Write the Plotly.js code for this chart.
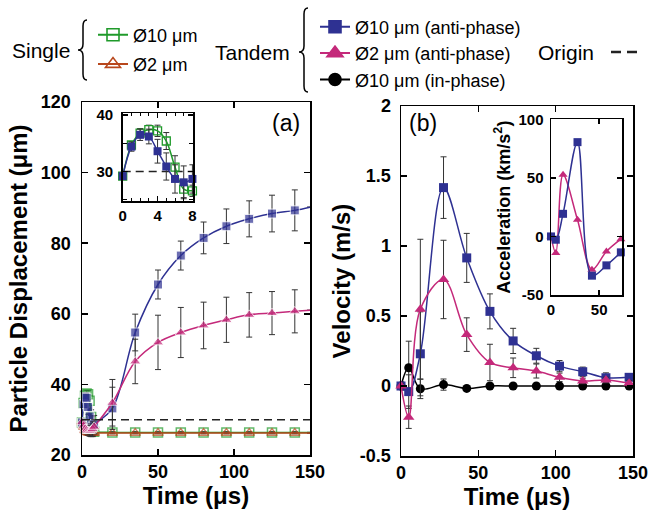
<!DOCTYPE html>
<html>
<head>
<meta charset="utf-8">
<script src="https://cdn.plot.ly/plotly-3.0.1.min.js"></script>
<style>html,body{margin:0;padding:0;background:#fff;}#chart{width:649px;height:513px;}</style>
</head>
<body>
<div id="chart"></div>
<script>
// ---------- data ----------
// (a) particle displacement, µm
const tDisp = [0, 1, 2, 3, 4, 5, 6, 7, 8, 20, 35, 50, 65, 80, 95, 110, 125, 140];
const single10 = [29.2, 34.7, 36.8, 37.4, 37.2, 35.4, 30.8, 26.9, 26.6, 26.4, 26.4, 26.4, 26.4, 26.4, 26.4, 26.4, 26.4, 26.4];
const single10Err = [0.4, 0.6, 0.8, 0.8, 1.0, 1.5, 2.0, 1.5, 1.0, 0.2, 0.2, 0.2, 0.2, 0.2, 0.2, 0.2, 0.2, 0.2];
const single2 = [29.3, 28.0, 27.0, 26.5, 26.3, 26.2, 26.2, 26.2, 26.2, 26.2, 26.2, 26.2, 26.2, 26.2, 26.2, 26.2, 26.2, 26.2];
const single2Err = [0.4, 0.5, 0.6, 0.6, 0.5, 0.4, 0.3, 0.3, 0.3, 0.2, 0.2, 0.2, 0.2, 0.2, 0.2, 0.2, 0.2, 0.2];
const tandem10 = [29.2, 34.4, 36.5, 36.2, 33.6, 30.9, 28.7, 28.1, 28.7, 33.2, 54.7, 68.3, 76.5, 81.5, 84.8, 86.9, 88.4, 89.3];
const tandem10Err = [0.4, 0.8, 1.0, 1.3, 2.1, 2.4, 2.5, 2.9, 2.5, 6.0, 5.2, 4.1, 4.1, 4.5, 4.9, 5.1, 5.2, 5.8];
const tandem2 = [29.3, 28.3, 27.4, 27.0, 26.8, 26.8, 27.0, 27.4, 28.0, 34.8, 46.5, 51.9, 54.7, 56.7, 58.3, 59.7, 60.2, 60.7];
const tandem2Err = [0.4, 0.8, 1.0, 1.0, 1.2, 1.5, 1.8, 2.0, 2.0, 6.6, 6.3, 7.7, 7.1, 6.6, 6.4, 6.3, 6.1, 6.1];
// curve value where the drawn curves meet the right frame (t = 150 µs)
const curveEndT = 150;
const single10End = 26.4, single2End = 26.2, tandem10End = 90.2, tandem2End = 61.0;
const originLevel = 30;
const insetCount = 9; // inset (a) shows t = 0..8 µs

// (b) velocity, m/s
const tVel = [0, 5, 12.5, 27.5, 42.5, 57.5, 72.5, 87.5, 102.5, 117.5, 132.5, 147.5];
const inPhase10 = [0, 0.13, -0.02, 0.01, -0.017, 0, 0, 0, 0, 0, 0, 0];
const inPhase10Err = [0.03, 0.19, 0.07, 0.04, 0.01, 0.01, 0.01, 0.01, 0.01, 0.01, 0.01, 0.01];
const anti10V = [0, -0.04, 0.23, 1.417, 0.915, 0.533, 0.322, 0.216, 0.142, 0.102, 0.059, 0.062];
const anti10VErr = [0.02, 0.12, 0.30, 0.22, 0.175, 0.125, 0.09, 0.053, 0.04, 0.033, 0.035, 0.02];
const anti2V = [0, -0.223, 0.548, 0.761, 0.367, 0.168, 0.13, 0.107, 0.062, 0.036, 0.043, 0.02];
const anti2VErr = [0.02, 0.08, 0.50, 0.28, 0.12, 0.13, 0.07, 0.05, 0.03, 0.02, 0.02, 0.02];

// (b) inset acceleration, km/s^2
const tAcc = [0, 5, 12.5, 27.5, 42.5, 57.5, 72.5];
const accAnti10 = [0, -2.8, 19.3, 80.5, -33.5, -24.7, -13.6];
const accAnti2 = [0, -14.2, 52.6, 14.2, -28.4, -12.8, -2.3];

// tick labels and legend names
const velTickVals = [-0.5, 0, 0.5, 1, 1.5, 2];
const velTickText = ['-0.5', '0', '0.5', '1', '1.5', '2'];
const accTickVals = [-50, 0, 50, 100];
const accTickText = ['-50', '0', '50', '100'];
const singleNames = ['Ø10 μm', 'Ø2 μm'];
const tandemNames = ['Ø10 μm (anti-phase)', 'Ø2 μm (anti-phase)', 'Ø10 μm (in-phase)'];

// ---------- styling / layout ----------
const W = 649, H = 513;
const px = x => x / W;
const py = y => 1 - y / H;
const FONT = 'Liberation Sans, Arial, Helvetica, sans-serif';
const C = {green: '#1f9a2a', brown: '#b8471c', blue: '#2e3192', pink: '#c4297a', black: '#000000', err: '#333333'};

function err(arr) { return {type: 'data', array: arr, color: C.err, thickness: 1, width: 3}; }
function withEnd(t, v, endV) { return {x: t.concat([curveEndT]), y: v.concat([endV])}; }
function sizes(n, s) { const a = []; for (let i = 0; i < n; i++) a.push(s); a.push(0); return a; }

const traces = [];
// (a) main
let d = withEnd(tDisp, single10, single10End);
traces.push({x: d.x, y: d.y, xaxis: 'x', yaxis: 'y', mode: 'lines+markers', showlegend: false, cliponaxis: false,
  line: {color: C.green, width: 1.5, shape: 'spline'},
  marker: {symbol: 'square-open', size: sizes(tDisp.length, 9), color: C.green, line: {width: 1.5, color: C.green}},
  error_y: err(single10Err.concat([0]))});
d = withEnd(tDisp, single2, single2End);
traces.push({x: d.x, y: d.y, xaxis: 'x', yaxis: 'y', mode: 'lines+markers', showlegend: false, cliponaxis: false,
  line: {color: C.brown, width: 1.5, shape: 'spline'},
  marker: {symbol: 'triangle-up-open', size: sizes(tDisp.length, 9), color: C.brown, line: {width: 1.5, color: C.brown}},
  error_y: err(single2Err.concat([0]))});
d = withEnd(tDisp, tandem10, tandem10End);
traces.push({x: d.x, y: d.y, xaxis: 'x', yaxis: 'y', mode: 'lines+markers', showlegend: false, cliponaxis: false,
  line: {color: C.blue, width: 1.5, shape: 'spline'},
  marker: {symbol: 'square', size: sizes(tDisp.length, 9), color: C.blue},
  error_y: err(tandem10Err.concat([0]))});
d = withEnd(tDisp, tandem2, tandem2End);
traces.push({x: d.x, y: d.y, xaxis: 'x', yaxis: 'y', mode: 'lines+markers', showlegend: false, cliponaxis: false,
  line: {color: C.pink, width: 1.5, shape: 'spline'},
  marker: {symbol: 'triangle-up', size: sizes(tDisp.length, 10), color: C.pink},
  error_y: err(tandem2Err.concat([0]))});
traces.push({x: [0, curveEndT], y: [originLevel, originLevel], xaxis: 'x', yaxis: 'y', mode: 'lines', showlegend: false,
  line: {color: '#222', width: 1.5, dash: '8px,5px'}});

// (a) inset
traces.push({x: [0, tDisp[insetCount - 1]], y: [originLevel, originLevel], xaxis: 'x3', yaxis: 'y3', mode: 'lines',
  showlegend: false, line: {color: '#222', width: 1.5, dash: '8px,5px'}});
traces.push({x: tDisp.slice(0, insetCount), y: single10.slice(0, insetCount), xaxis: 'x3', yaxis: 'y3',
  mode: 'lines+markers', showlegend: false, cliponaxis: false,
  line: {color: C.green, width: 1.5, shape: 'spline'},
  marker: {symbol: 'square-open', size: 8, color: C.green, line: {width: 1.3, color: C.green}},
  error_y: err(single10Err.slice(0, insetCount))});
traces.push({x: tDisp.slice(0, insetCount), y: tandem10.slice(0, insetCount), xaxis: 'x3', yaxis: 'y3',
  mode: 'lines+markers', showlegend: false, cliponaxis: false,
  line: {color: C.blue, width: 1.5, shape: 'spline'},
  marker: {symbol: 'square', size: 8, color: C.blue},
  error_y: err(tandem10Err.slice(0, insetCount))});

// (b) main
traces.push({x: tVel, y: inPhase10, xaxis: 'x2', yaxis: 'y2', mode: 'lines+markers', showlegend: false, cliponaxis: false,
  line: {color: C.black, width: 1.5, shape: 'spline'},
  marker: {symbol: 'circle', size: 9, color: C.black},
  error_y: err(inPhase10Err)});
traces.push({x: tVel, y: anti10V, xaxis: 'x2', yaxis: 'y2', mode: 'lines+markers', showlegend: false, cliponaxis: false,
  line: {color: C.blue, width: 1.5, shape: 'spline'},
  marker: {symbol: 'square', size: 9, color: C.blue},
  error_y: err(anti10VErr)});
traces.push({x: tVel, y: anti2V, xaxis: 'x2', yaxis: 'y2', mode: 'lines+markers', showlegend: false, cliponaxis: false,
  line: {color: C.pink, width: 1.5, shape: 'spline'},
  marker: {symbol: 'triangle-up', size: 10, color: C.pink},
  error_y: err(anti2VErr)});

// (b) inset
traces.push({x: tAcc, y: accAnti2, xaxis: 'x4', yaxis: 'y4', mode: 'lines+markers', showlegend: false, cliponaxis: false,
  line: {color: C.pink, width: 1.5, shape: 'spline'},
  marker: {symbol: 'triangle-up', size: 8, color: C.pink}});
traces.push({x: tAcc, y: accAnti10, xaxis: 'x4', yaxis: 'y4', mode: 'lines+markers', showlegend: false, cliponaxis: false,
  line: {color: C.blue, width: 1.5, shape: 'spline'},
  marker: {symbol: 'square', size: 8, color: C.blue}});

// legend entries: the same series on a hidden key axis (its range shows none of them),
// so only their legend symbols appear, at the size used in the reference legend
function entry(name, legend, xs, ys, color, symbol, size, dash) {
  return {x: xs, y: ys, xaxis: 'x5', yaxis: 'y5', type: 'scatter', mode: dash ? 'lines' : 'lines+markers',
    name: name, legend: legend, showlegend: true, cliponaxis: true,
    line: {color: color, width: dash ? 2.5 : 2, dash: dash || 'solid'},
    marker: {symbol: symbol, size: size, color: color, line: {width: 1.6, color: color}}};
}
traces.push(Object.assign(entry(singleNames[0], 'legend', tDisp, single10, C.green, 'square-open', 12), {legendgroup: 'g1'}));
traces.push(Object.assign(entry(singleNames[1], 'legend', tDisp, single2, C.brown, 'triangle-up-open', 13), {legendgroup: 'g2'}));
traces.push(entry(tandemNames[0], 'legend2', tDisp, tandem10, C.blue, 'square', 12));
traces.push(entry(tandemNames[1], 'legend2', tDisp, tandem2, C.pink, 'triangle-up', 14));
traces.push(entry(tandemNames[2], 'legend2', tVel, inPhase10, C.black, 'circle', 12));
traces.push(entry(' ', 'legend3', [0, curveEndT], [originLevel, originLevel], '#222', 'circle', 1, '10px,6px'));

const tickFont = {family: FONT, size: 18, color: '#000', weight: 'bold'};
const insetTickFont = {family: FONT, size: 15, color: '#000', weight: 'bold'};
const titleFont = {family: FONT, size: 24, color: '#000', weight: 'bold'};
const base = {showline: true, linecolor: '#000', linewidth: 1.5, mirror: 'ticks', ticks: 'inside',
  ticklen: 6, tickwidth: 1.5, tickcolor: '#000', showgrid: false, zeroline: false, fixedrange: true};

const legendBase = {bgcolor: 'rgba(0,0,0,0)', borderwidth: 0, xanchor: 'left', yanchor: 'top',
  xref: 'paper', yref: 'paper', font: {family: FONT, size: 18, color: '#000'},
  itemclick: false, itemsizing: 'trace'};

function brace(xTip, xMid, xEnd, yTop, yTipY, yBot) {
  const r = 6;
  const P = (x, y) => px(x) + ',' + py(y);
  return 'M' + P(xEnd, yTop) + ' Q' + P(xMid, yTop) + ' ' + P(xMid, yTop + r) +
    ' L' + P(xMid, yTipY - r) + ' Q' + P(xMid, yTipY) + ' ' + P(xTip, yTipY) +
    ' Q' + P(xMid, yTipY) + ' ' + P(xMid, yTipY + r) +
    ' L' + P(xMid, yBot - r) + ' Q' + P(xMid, yBot) + ' ' + P(xEnd, yBot);
}
function label(text, x, y, size) {
  return {text: text, x: px(x), y: py(y), xref: 'paper', yref: 'paper', xanchor: 'center', yanchor: 'middle',
    showarrow: false, font: {family: FONT, size: size, color: '#000'}};
}

const layout = {
  width: W, height: H,
  margin: {l: 0, r: 0, t: 0, b: 0, autoexpand: false},
  paper_bgcolor: '#fff', plot_bgcolor: 'rgba(0,0,0,0)',
  font: {family: FONT, color: '#000'},
  xaxis: Object.assign({}, base, {domain: [px(82), px(310)], range: [0, 150], anchor: 'y',
    tickvals: [0, 50, 100, 150], tickfont: tickFont,
    title: {text: 'Time (μs)', font: titleFont, standoff: 5}}),
  yaxis: Object.assign({}, base, {domain: [py(455), py(102)], range: [20, 120], anchor: 'x',
    dtick: 20, tickfont: tickFont, ticklabelstandoff: 6,
    title: {text: 'Particle Displacement (μm)', font: titleFont, standoff: 6}}),
  xaxis2: Object.assign({}, base, {domain: [px(401), px(633)], range: [0, 150], anchor: 'y2',
    tickvals: [0, 50, 100, 150], tickfont: tickFont,
    title: {text: 'Time (μs)', font: titleFont, standoff: 5}}),
  yaxis2: Object.assign({}, base, {domain: [py(456), py(106)], range: [-0.5, 2], anchor: 'x2',
    tickvals: velTickVals, ticktext: velTickText, tickfont: tickFont, ticklabelstandoff: 5,
    title: {text: 'Velocity (m/s)', font: titleFont, standoff: 2}}),
  xaxis3: Object.assign({}, base, {domain: [px(122.7), px(193.3)], range: [0, 8.1], anchor: 'y3',
    tickvals: [0, 4, 8], tickfont: insetTickFont, ticklen: 5,
    minor: {dtick: 1, ticklen: 3, ticks: 'inside', tickcolor: '#000', tickwidth: 1}}),
  yaxis3: Object.assign({}, base, {domain: [py(201), py(113.3)], range: [24.8, 40.3], anchor: 'x3',
    tickvals: [30, 40], tickfont: insetTickFont, ticklen: 5, ticklabelstandoff: 5,
    minor: {dtick: 5, ticklen: 4, ticks: 'inside', tickcolor: '#000', tickwidth: 1}}),
  xaxis4: Object.assign({}, base, {domain: [px(551), px(622.3)], range: [0, 74], anchor: 'y4',
    tickvals: [0, 50], tickfont: insetTickFont, ticklen: 5}),
  yaxis4: Object.assign({}, base, {domain: [py(295), py(119.3)], range: [-50, 100], anchor: 'x4',
    tickvals: accTickVals, ticktext: accTickText, tickfont: insetTickFont, ticklen: 5, ticklabelstandoff: 3,
    title: {text: 'Acceleration (km/s<sup>2</sup>)', font: {family: FONT, size: 18, color: '#000', weight: 'bold'}, standoff: 3}}),
  // hidden key axis for the legend entries
  xaxis5: {domain: [0, 0.01], range: [-1000, -999], visible: false, anchor: 'y5', fixedrange: true},
  yaxis5: {domain: [0, 0.01], range: [-1000, -999], visible: false, anchor: 'x5', fixedrange: true},
  legend: Object.assign({}, legendBase, {x: px(93), y: py(16.5), traceorder: 'grouped', tracegroupgap: 3}),
  legend2: Object.assign({}, legendBase, {x: px(315), y: py(8.5), traceorder: 'normal'}),
  legend3: Object.assign({}, legendBase, {x: px(606), y: py(33.8), traceorder: 'normal'}),
  annotations: [
    label('Single', 41, 50, 21),
    label('Tandem', 252, 52, 21),
    label('Origin', 566, 52, 21),
    label('(a)', 286, 123, 23),
    label('(b)', 423, 123, 23)
  ],
  shapes: [
    {type: 'path', xref: 'paper', yref: 'paper', path: brace(78, 83, 87, 20, 50, 80), line: {color: '#000', width: 1.5}},
    {type: 'path', xref: 'paper', yref: 'paper', path: brace(299, 304, 308, 8, 52, 92), line: {color: '#000', width: 1.5}}
  ]
};

Plotly.newPlot('chart', traces, layout, {staticPlot: true, displayModeBar: false});
</script>
</body>
</html>
